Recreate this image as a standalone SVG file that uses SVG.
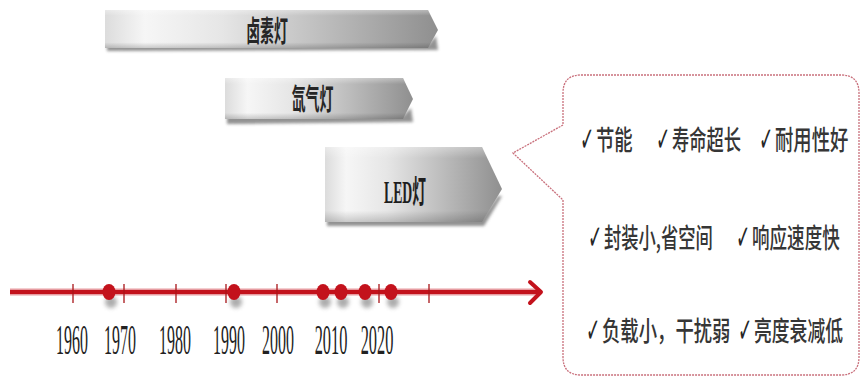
<svg xmlns="http://www.w3.org/2000/svg" width="861" height="378" viewBox="0 0 861 378">
  <defs>
    <linearGradient id="barGrad" x1="0" y1="0" x2="1" y2="0">
      <stop offset="0" stop-color="#dcdcdc"/>
      <stop offset="0.12" stop-color="#f6f6f6"/>
      <stop offset="0.35" stop-color="#e6e6e6"/>
      <stop offset="1" stop-color="#8f8f8f"/>
    </linearGradient>
    <linearGradient id="barShade" x1="0" y1="0" x2="0" y2="1">
      <stop offset="0" stop-color="#ffffff" stop-opacity="0.35"/>
      <stop offset="0.15" stop-color="#ffffff" stop-opacity="0"/>
      <stop offset="0.85" stop-color="#000000" stop-opacity="0"/>
      <stop offset="1" stop-color="#000000" stop-opacity="0.18"/>
    </linearGradient>
    <filter id="soft" x="-10%" y="-50%" width="120%" height="200%">
      <feGaussianBlur stdDeviation="1.6"/>
    </filter>
    <filter id="dotShadow" x="-100%" y="-100%" width="300%" height="300%">
      <feGaussianBlur stdDeviation="2"/>
    </filter>
    <style>
      .bar { fill: url(#barGrad); }
      .shade { fill: url(#barShade); }
      .barShadow { fill: #6e6e6e; opacity: 0.75; filter: url(#soft); }
      .barText { font-family: "Noto Sans CJK SC", "Liberation Sans", sans-serif; font-size: 29px; font-weight: 700; fill: #262626; text-anchor: middle; }
      .ledText { font-family: "Liberation Serif", "Noto Sans CJK SC", serif; font-size: 32px; font-weight: 700; fill: #1e1e1e; text-anchor: middle; }
      .year { font-family: "Liberation Serif", serif; font-size: 42px; fill: #222222; text-anchor: middle; }
      .tick { stroke: #a81418; stroke-width: 1.3; }
      .dot { fill: #c3121c; }
      .dotSh { fill: #777; opacity: 0.6; filter: url(#dotShadow); }
      .feat { font-family: "Noto Sans CJK SC", "Liberation Sans", sans-serif; font-size: 27px; font-weight: 500; fill: #363636; }
      .chk { font-family: "DejaVu Sans", sans-serif; font-size: 34px; font-weight: 700; fill: #262626; }
    </style>
  </defs>

  <rect width="861" height="378" fill="#ffffff"/>

  <g id="halogen">
    <polygon class="barShadow" points="107,45 428,45 436,36 438,50 107,51"/>
    <polygon class="bar" points="105,10 428,10 438,30 428,48 105,48"/>
    <polygon class="shade" points="105,10 428,10 438,30 428,48 105,48"/>
    <text class="barText" transform="translate(267,42) scale(0.48,1)">卤素灯</text>
  </g>

  <g id="xenon">
    <polygon class="barShadow" points="227,116 403,116 411,108 413,122 227,124"/>
    <polygon class="bar" points="225,78 403,78 413,99 403,119 225,119"/>
    <polygon class="shade" points="225,78 403,78 413,99 403,119 225,119"/>
    <text class="barText" transform="translate(312.5,110) scale(0.48,1)">氙气灯</text>
  </g>

  <g id="led">
    <polygon class="barShadow" points="327,218 482,218 498,196 502,196 484,226 327,226"/>
    <polygon class="bar" points="325,147 482,147 502,189 482,222 325,222"/>
    <polygon class="shade" points="325,147 482,147 502,189 482,222 325,222"/>
    <text class="ledText" transform="translate(405,203) scale(0.43,1)">LED灯</text>
  </g>

  <g id="connectors">
    <line x1="10" y1="292" x2="540" y2="292" stroke="#eaa4a8" stroke-width="8" stroke-opacity="0.55"/>
    <line x1="10" y1="292" x2="540" y2="292" stroke="#c3121c" stroke-width="4.5"/>
    <polyline points="530,282 541,292 530,303" fill="none" stroke="#c3121c" stroke-width="4" stroke-linecap="round" stroke-linejoin="round"/>
  </g>

  <g id="timeline">
    <line class="tick" x1="73" y1="284" x2="73" y2="303"/>
    <line class="tick" x1="124" y1="284" x2="124" y2="303"/>
    <line class="tick" x1="176" y1="284" x2="176" y2="303"/>
    <line class="tick" x1="226" y1="284" x2="226" y2="303"/>
    <line class="tick" x1="277" y1="284" x2="277" y2="303"/>
    <line class="tick" x1="379" y1="284" x2="379" y2="303"/>
    <line class="tick" x1="429" y1="284" x2="429" y2="303"/>

    <ellipse class="dotSh" cx="111" cy="302" rx="6" ry="6"/>
    <ellipse class="dotSh" cx="236" cy="302" rx="6" ry="6"/>
    <ellipse class="dotSh" cx="325" cy="302" rx="6" ry="6"/>
    <ellipse class="dotSh" cx="343" cy="302" rx="6" ry="6"/>
    <ellipse class="dotSh" cx="367" cy="302" rx="6" ry="6"/>
    <ellipse class="dotSh" cx="393" cy="302" rx="6" ry="6"/>
    <ellipse class="dot" cx="109" cy="292" rx="6.5" ry="8"/>
    <ellipse class="dot" cx="234" cy="292" rx="6.5" ry="8"/>
    <ellipse class="dot" cx="323" cy="292" rx="6.5" ry="8"/>
    <ellipse class="dot" cx="341" cy="292" rx="6.5" ry="8"/>
    <ellipse class="dot" cx="365" cy="292" rx="6.5" ry="8"/>
    <ellipse class="dot" cx="391" cy="292" rx="6.5" ry="8"/>

    <text class="year" transform="translate(72,354) scale(0.38,1)">1960</text>
    <text class="year" transform="translate(120,354) scale(0.38,1)">1970</text>
    <text class="year" transform="translate(175,354) scale(0.38,1)">1980</text>
    <text class="year" transform="translate(229,354) scale(0.38,1)">1990</text>
    <text class="year" transform="translate(278,354) scale(0.38,1)">2000</text>
    <text class="year" transform="translate(331,354) scale(0.39,1)">2010</text>
    <text class="year" transform="translate(377,354) scale(0.39,1)">2020</text>
  </g>

  <g id="callout">
    <path d="M 581 75 H 841 Q 859 75 859 93 V 357 Q 859 375 841 375 H 581 Q 563 375 563 357 V 200 L 513 153 L 563 125 V 93 Q 563 75 581 75 Z" fill="#ffffff" stroke="#c9707c" stroke-width="1.3" stroke-dasharray="2 1"/>

    <text class="chk" transform="translate(580,151) scale(0.5,1)">✓</text>
    <text class="feat" transform="translate(596,150) scale(0.68,1)">节能</text>
    <text class="chk" transform="translate(656,151) scale(0.5,1)">✓</text>
    <text class="feat" transform="translate(672,150) scale(0.64,1)">寿命超长</text>
    <text class="chk" transform="translate(759,151) scale(0.5,1)">✓</text>
    <text class="feat" transform="translate(775,150) scale(0.68,1)">耐用性好</text>

    <text class="chk" transform="translate(588,249) scale(0.5,1)">✓</text>
    <text class="feat" transform="translate(604,248) scale(0.64,1)">封装小,省空间</text>
    <text class="chk" transform="translate(736,249) scale(0.5,1)">✓</text>
    <text class="feat" transform="translate(752,248) scale(0.65,1)">响应速度快</text>

    <text class="chk" transform="translate(586,342) scale(0.5,1)">✓</text>
    <text class="feat" transform="translate(602,341) scale(0.68,1)">负载小，干扰弱</text>
    <text class="chk" transform="translate(738,342) scale(0.5,1)">✓</text>
    <text class="feat" transform="translate(754,341) scale(0.66,1)">亮度衰减低</text>
  </g>
</svg>
